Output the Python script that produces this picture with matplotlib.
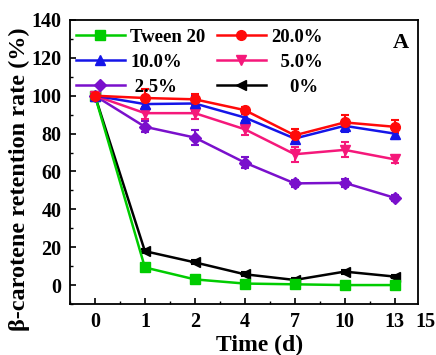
import matplotlib
matplotlib.use("Agg")
import matplotlib.pyplot as plt
from matplotlib.ticker import MultipleLocator
from matplotlib.lines import Line2D

days = ["0", "1", "2", "4", "7", "10", "13"]
tween20 = [100, 9.3, 3.0, 0.8, 0.4, 0.0, 0.0]
p20 = [100, 98.8, 98.1, 92.4, 79.1, 85.9, 83.6]
p10 = [100, 95.6, 95.9, 88.5, 77.4, 84.1, 80.0]
p5 = [100, 90.8, 90.8, 82.3, 69.1, 71.4, 66.4]
p25 = [100, 83.6, 77.9, 64.7, 53.7, 54.0, 46.1]
p0 = [100, 17.9, 12.0, 5.7, 2.7, 7.1, 4.5]

e_tween20 = [0, 1.0, 0.8, 0.5, 0.5, 0.5, 0.5]
e_p20 = [0, 4.5, 3.0, 1.5, 3.5, 4.0, 3.5]
e_p10 = [0, 2.0, 4.0, 2.0, 2.5, 3.0, 3.0]
e_p5 = [0, 3.0, 3.0, 3.0, 4.0, 4.0, 2.0]
e_p25 = [0, 3.0, 4.0, 3.0, 2.0, 2.0, 1.5]
e_p0 = [0, 1.0, 1.0, 1.0, 1.0, 1.0, 1.0]

plt.rcParams['font.family'] = ['Liberation Serif', 'DejaVu Serif']
plt.rcParams['font.weight'] = 'bold'

fig = plt.figure(figsize=(4.36, 3.55), dpi=100)
ax = fig.add_axes([70/436, 51/355, 348/436, 284/355])

x = list(range(len(days)))
series = [
    ("Tween 20", tween20, e_tween20, "#00CC00", "s"),
    ("10.0%", p10, e_p10, "#1515E8", "^"),
    (" 2.5%", p25, e_p25, "#7A10CC", "D"),
    ("20.0%", p20, e_p20, "#FF0A0A", "o"),
    ("  5.0%", p5, e_p5, "#F5187A", "v"),
    ("    0%", p0, e_p0, "#000000", "<"),
]
draw_order = [5, 0, 2, 4, 1, 3]
for i in draw_order:
    lab, y, e, c, m = series[i]
    ms = 6 if m == "D" else 7
    ax.errorbar(x, y, yerr=e, color=c, marker=m, markersize=ms, lw=1.8,
                capsize=3, elinewidth=1.5, capthick=1.5)

hl = []
for lab, y, e, c, m in series:
    ms = 6 if m == "D" else 7
    hl.append(Line2D([], [], color=c, marker=m, markersize=ms, lw=1.8))
labels = [s[0] for s in series]
leg = ax.legend(hl, labels, ncol=2, loc="upper left", bbox_to_anchor=(-0.015, 1.01),
                frameon=False, prop={'weight': 'bold', 'size': 13.5},
                handlelength=2.6, columnspacing=0.6, labelspacing=0.42,
                handletextpad=0.3, borderaxespad=0.2)

ax.set_xlim(-0.5, 6.47)
ax.set_ylim(-10, 140)
ax.set_xticks(x)
ax.set_xticklabels(days)
ax.xaxis.set_minor_locator(MultipleLocator(0.5))
ax.yaxis.set_major_locator(MultipleLocator(20))
ax.yaxis.set_minor_locator(MultipleLocator(10))
ax.tick_params(axis='both', which='both', direction='in', top=False, right=False)
ax.tick_params(which='major', length=4, width=1.2, labelsize=14.5, pad=6)
ax.tick_params(which='minor', length=2.5, width=1.0)
for lbl in ax.get_xticklabels() + ax.get_yticklabels():
    lbl.set_fontweight('bold')
for s in ax.spines.values():
    s.set_linewidth(1.3)

ax.annotate("15", xy=(6.62, 0), xycoords=('data', 'axes fraction'),
            xytext=(0, -6), textcoords='offset points', ha='center', va='top',
            fontsize=14.5, fontweight='bold')
ax.text(0.975, 0.92, "A", transform=ax.transAxes, ha='right', va='center',
        fontsize=16, fontweight='bold')

ax.set_xlabel("Time (d)", fontsize=17, fontweight='bold', labelpad=1)
ax.xaxis.set_label_coords(0.546, -0.11)
ax.xaxis.label.set_va('top')
ax.set_ylabel("β-carotene retention rate (%)", fontsize=17.5, fontweight='bold')
ax.yaxis.set_label_coords(-0.115, 0.44)

fig.savefig("out.png", dpi=100)
